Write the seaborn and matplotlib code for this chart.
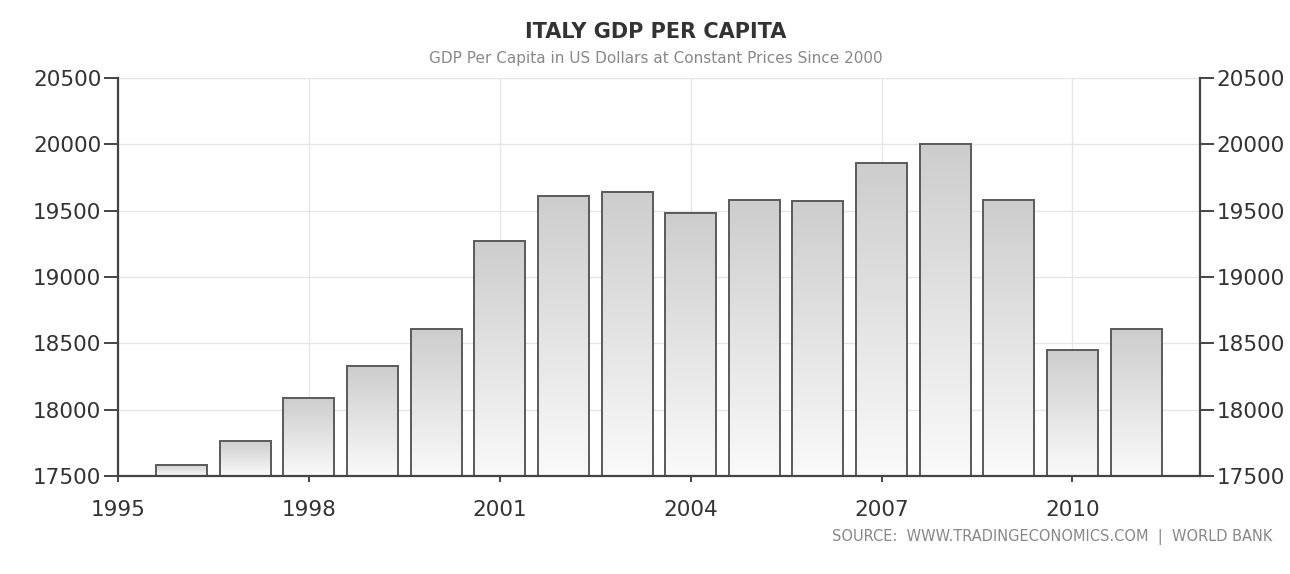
import matplotlib
matplotlib.use('Agg')
import matplotlib.pyplot as plt
from matplotlib.colors import LinearSegmentedColormap
import seaborn as sns
import pandas as pd
import numpy as np

years = [1996, 1997, 1998, 1999, 2000, 2001, 2002, 2003,
         2004, 2005, 2006, 2007, 2008, 2009, 2010, 2011]
gdp = [17583, 17764, 18088, 18329, 18608, 19272, 19611, 19641,
       19483, 19581, 19574, 19860, 20003, 19580, 18450, 18608]
x_ticks = [1995, 1998, 2001, 2004, 2007, 2010]
y_ticks = [17500, 18000, 18500, 19000, 19500, 20000, 20500]

title = 'ITALY GDP PER CAPITA'
subtitle = 'GDP Per Capita in US Dollars at Constant Prices Since 2000'
source = 'SOURCE:  WWW.TRADINGECONOMICS.COM  |  WORLD BANK'

df = pd.DataFrame({'year': years, 'gdp': gdp})

sns.set_style('white')
plt.rcParams['font.family'] = ['DejaVu Sans']

fig = plt.figure(figsize=(12.9, 5.74), dpi=100)
ax = fig.add_axes([0.0915, 0.1707, 0.8385, 0.6933])

sns.barplot(data=df, x='year', y='gdp', native_scale=True, width=0.8,
            color='#dddddd', edgecolor='#5a5a5a', linewidth=1.4, ax=ax)

ax.set_xlim(1995, 2012)
ax.set_ylim(17500, 20500)
ymin = ax.get_ylim()[0]

# gradient fill inside each bar
cmap = LinearSegmentedColormap.from_list('g', ['#fafafa', '#cdcdcd'])
grad = np.linspace(0, 1, 256).reshape(-1, 1)
for bar in ax.patches:
    x0 = bar.get_x()
    w = bar.get_width()
    top = bar.get_y() + bar.get_height()
    ax.imshow(grad, extent=[x0, x0 + w, ymin, top], origin='lower',
              cmap=cmap, aspect='auto', zorder=bar.get_zorder() - 0.1)
    bar.set_facecolor('none')

ax.set_xlim(1995, 2012)
ax.set_ylim(17500, 20500)
ax.set_xticks(x_ticks)
ax.set_yticks(y_ticks)
ax.set_xlabel('')
ax.set_ylabel('')

ax.set_axisbelow(True)
ax.grid(True, color='#e6e6e6', linewidth=1)

for side in ['left', 'right', 'bottom']:
    ax.spines[side].set_color('#444444')
    ax.spines[side].set_linewidth(1.6)
ax.spines['top'].set_visible(False)

ax.tick_params(axis='y', which='both', left=True, right=True,
               labelleft=True, labelright=True, direction='out',
               length=10, width=1.4, color='#444444',
               labelsize=15.5, labelcolor='#333333', pad=2)
ax.tick_params(axis='x', bottom=True, direction='out', length=4,
               width=1.4, color='#444444', labelsize=15.5,
               labelcolor='#333333', pad=13)

fig.text(0.508, 0.945, title, ha='center', va='center', fontsize=15,
         fontweight='bold', color='#333333')
fig.text(0.508, 0.898, subtitle, ha='center', va='center', fontsize=11,
         color='#888888')
fig.text(0.986, 0.065, source, ha='right', va='center', fontsize=10.5,
         color='#888888')

fig.savefig('out.png', dpi=100)
